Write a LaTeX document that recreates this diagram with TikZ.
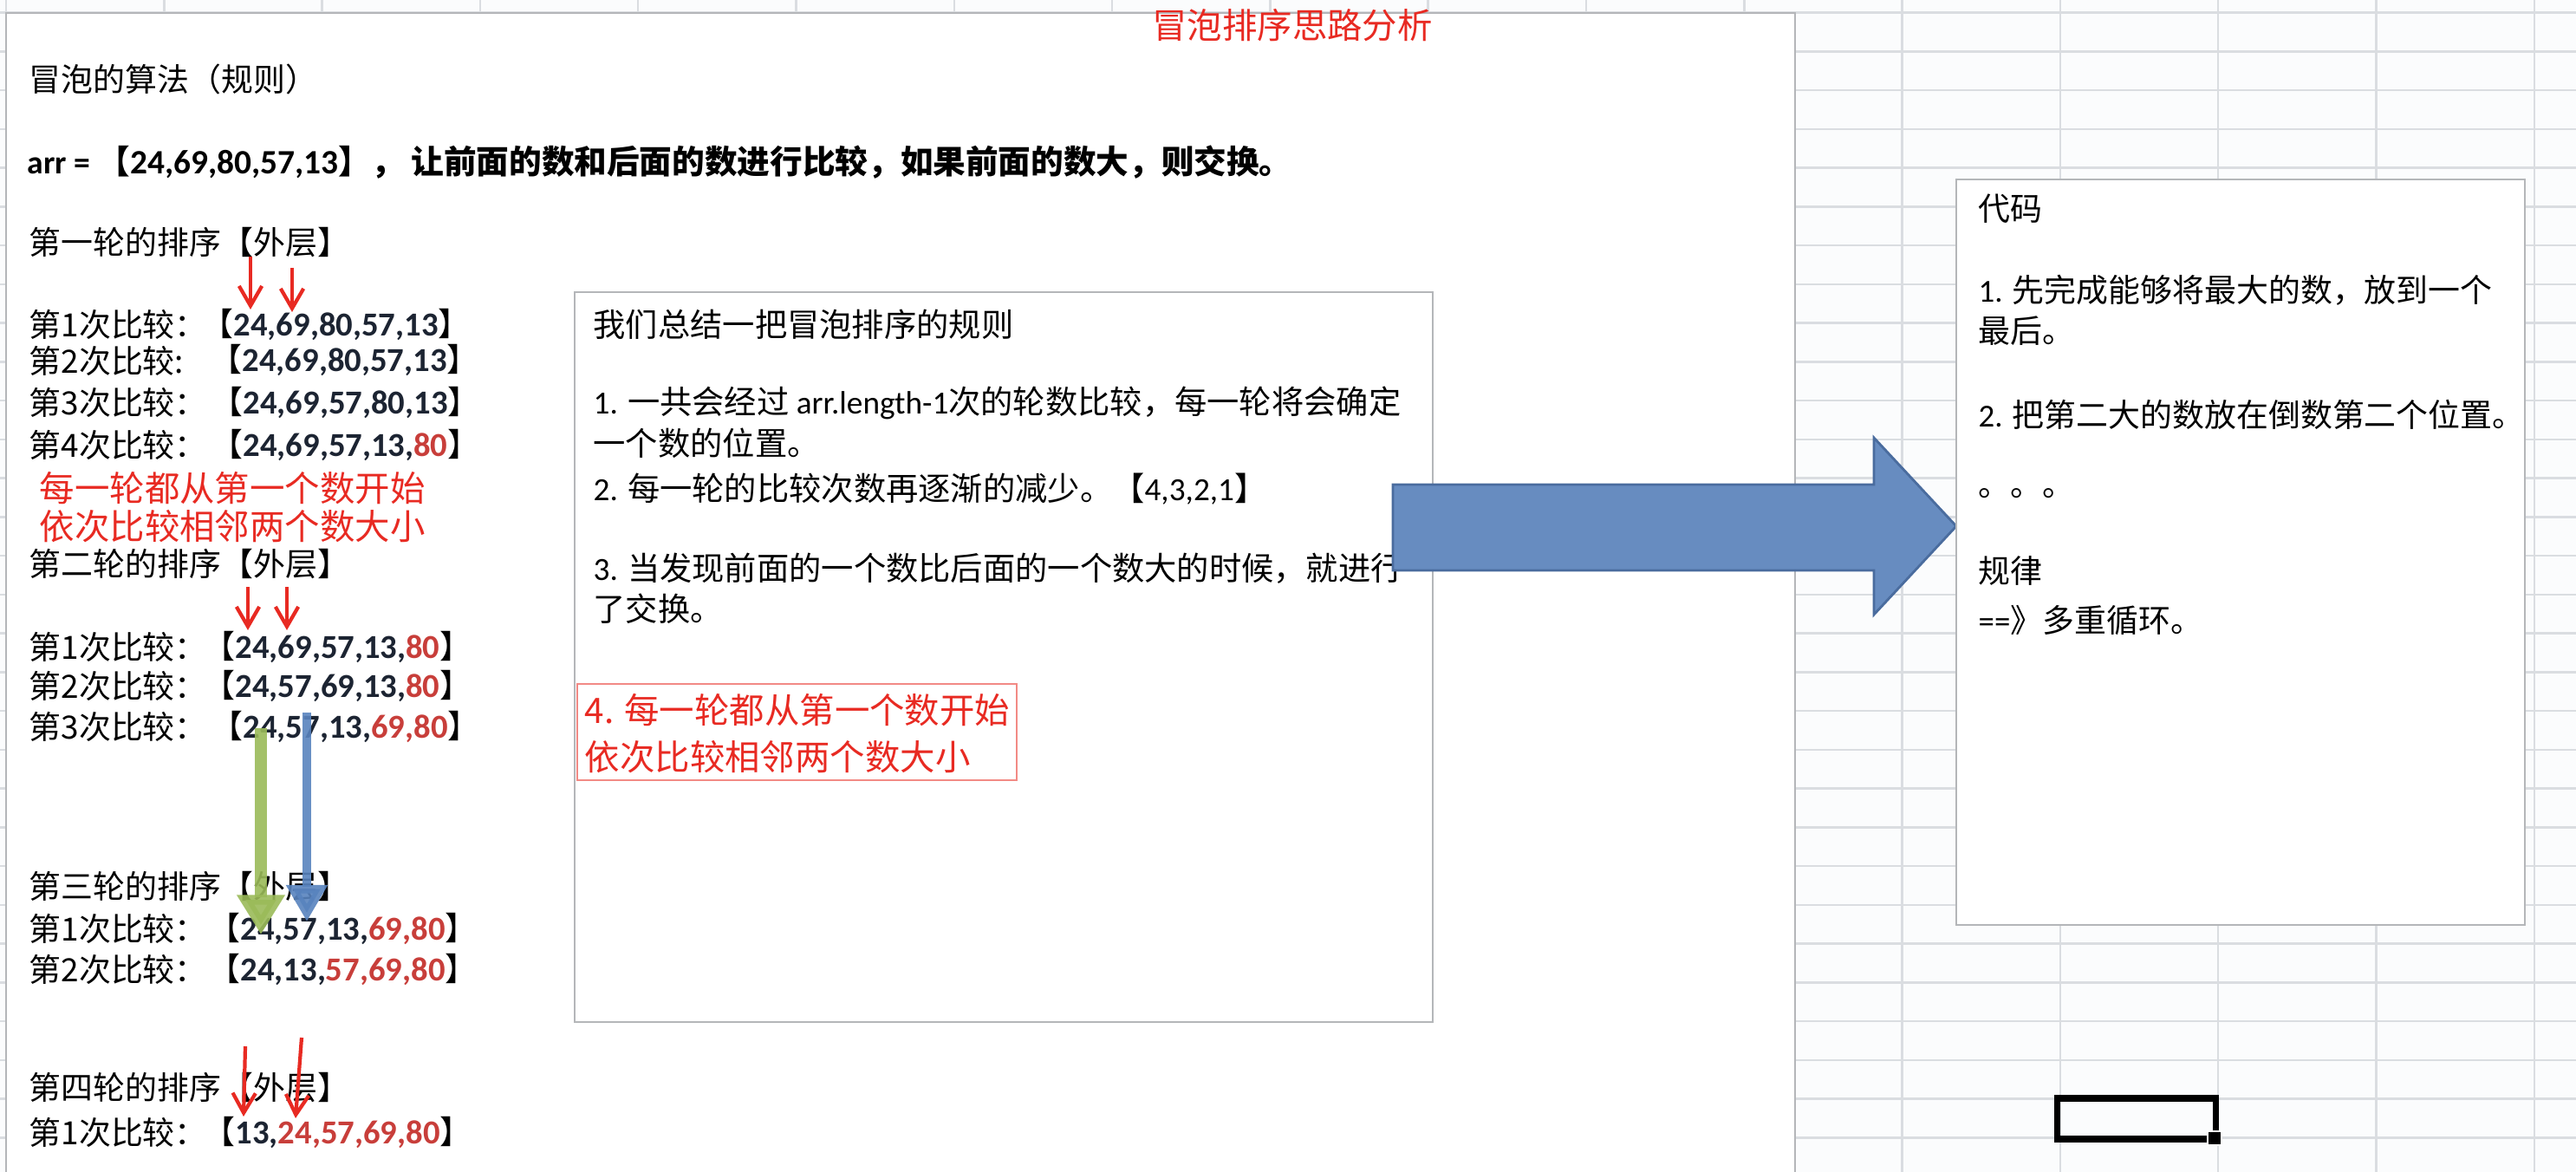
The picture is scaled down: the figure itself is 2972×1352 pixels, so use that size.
\documentclass[tikz,border=0pt]{standalone}
\usepackage{fontspec}
\setmainfont{Noto Sans CJK SC}
\newfontfamily\numfont{Carlito}
\usetikzlibrary{arrows.meta}
\definecolor{sheetbg}{RGB}{251,252,253}
\definecolor{gridgray}{RGB}{218,221,225}
\definecolor{boxgray}{RGB}{180,182,185}
\definecolor{notered}{RGB}{232,42,34}
\definecolor{numred}{RGB}{200,62,58}
\definecolor{numdark}{RGB}{28,36,50}
\definecolor{bigblue}{RGB}{103,140,192}
\definecolor{bigblueedge}{RGB}{74,108,158}
\definecolor{markgreen}{RGB}{155,187,89}
\definecolor{markblue}{RGB}{88,131,190}
\newcommand{\nb}[1]{{\numfont\bfseries\fontsize{11}{12}\selectfont\color{numdark}#1}}
\newcommand{\rn}[1]{\textcolor{numred}{#1}}
\newcommand{\lat}[1]{{\numfont #1}}

\begin{document}
\begin{tikzpicture}[
    x=0.01cm, y=-0.01cm,
    gridline/.style={draw=gridgray, line width=0.7pt},
    sheetbox/.style={draw=boxgray, line width=0.8pt, fill=white},
    txt/.style={anchor=west, inner sep=0pt, font=\fontsize{10.5}{12}\selectfont},
    sumtxt/.style={txt, font=\fontsize{10.6}{12}\selectfont},
    rednote/.style={txt, text=notered, font=\fontsize{11.5}{13}\selectfont},
    redarrow/.style={draw=notered, line width=1.2pt,
                     -{Straight Barb[length=6.5pt, width=7.5pt]}},
    greenmark/.style={draw=markgreen, opacity=0.9, line width=3.7pt,
                      -{Triangle[length=13pt, width=15pt]}},
    bluemark/.style={draw=markblue, opacity=0.9, line width=2.8pt,
                     -{Triangle[length=12pt, width=13pt]}},
]
\useasboundingbox (0,0) rectangle (2972,1352);
% sheet background and cell grid
\fill[sheetbg] (0,0) rectangle (2972,1352);
\foreach \i in {0,...,16}
    \draw[gridline] (7+182.3*\i, 0) -- (7+182.3*\i, 1352);
\foreach \j in {0,...,29}
    \draw[gridline] (0, 14.7+44.75*\j) -- (2972, 14.7+44.75*\j);

% main text panel
\fill[white] (7,15) rectangle (2071,1352);
\draw[boxgray, line width=0.8pt] (7,1352) -- (7,15) -- (2071,15) -- (2071,1352);
\node[rednote, anchor=center] (title) at (1491,29) {冒泡排序思路分析};

% left column
\node[txt] (algo) at (33,91) {冒泡的算法（规则）};
\node[txt, font=\fontsize{10.7}{12}\selectfont\bfseries] (arrline) at (31,187)
    {\lat{arr =} 【{\numfont\fontsize{11.2}{12}\selectfont 24,69,80,57,13}】， 让前面的数和后面的数进行比较，如果前面的数大，则交换。};
\foreach \n/\ord/\y in {1/一/280, 2/二/651, 3/三/1023, 4/四/1255}
    \node[txt] (round\n) at (33,\y) {第\ord 轮的排序【外层】};
\foreach \y/\lab/\bx/\arr in {
    374/{第1次比较：}/232/{24,69,80,57,13},
    416/{第2次比较:}/242/{24,69,80,57,13},
    464/{第3次比较：}/243/{24,69,57,80,13},
    513/{第4次比较：}/243/{24,69,57,13,\rn{80}},
    746/{第1次比较：}/234/{24,69,57,13,\rn{80}},
    791/{第2次比较：}/234/{24,57,69,13,\rn{80}},
    838/{第3次比较：}/243/{24,57,13,\rn{69,80}},
    1071/{第1次比较：}/240/{24,57,13,\rn{69,80}},
    1118/{第2次比较：}/240/{24,13,\rn{57,69,80}},
    1306/{第1次比较：}/234/{13,\rn{24,57,69,80}}} {
    \node[txt] (lab\y) at (33,\y) {\lab};
    \node[txt] (arr\y) at (\bx,\y) {【\nb{\arr}】};
}
\node[rednote] (hint1) at (45,563) {每一轮都从第一个数开始};
\node[rednote] (hint2) at (45,607) {依次比较相邻两个数大小};

% summary box
\draw[sheetbox] (663,337) rectangle (1653,1179);
\node[sumtxt] (sum0) at (684,374) {我们总结一把冒泡排序的规则};
\node[sumtxt] (sum1) at (684,465) {\lat{1.} 一共会经过 \lat{arr.length-1}次的轮数比较，每一轮将会确定};
\node[sumtxt] (sum1b) at (684,511) {一个数的位置。};
\node[sumtxt] (sum2) at (684,564) {\lat{2.} 每一轮的比较次数再逐渐的减少。【\lat{4,3,2,1}】};
\node[sumtxt] (sum3) at (684,656) {\lat{3.} 当发现前面的一个数比后面的一个数大的时候，就进行};
\node[sumtxt] (sum3b) at (684,702) {了交换。};
\draw[notered!55, line width=0.5pt] (666,789) rectangle (1173,900);
\node[rednote] (sum4) at (674,819) {4. 每一轮都从第一个数开始};
\node[rednote] (sum4b) at (674,873) {依次比较相邻两个数大小};

% block arrow to the code box
\filldraw[fill=bigblue, draw=bigblueedge, line width=0.8pt]
    (1607,559) -- (2162,559) -- (2162,505) -- (2257,607)
    -- (2162,709) -- (2162,658) -- (1607,658) -- cycle;

% code box
\draw[sheetbox] (2257,207) rectangle (2913,1067);
\node[txt] (code0) at (2282,241) {代码};
\node[txt] (code1) at (2282,335) {\lat{1.} 先完成能够将最大的数，放到一个};
\node[txt] (code1b) at (2282,382) {最后。};
\node[txt] (code2) at (2282,478) {\lat{2.} 把第二大的数放在倒数第二个位置。};
\node[txt] (code3) at (2282,569) {。。。};
\node[txt] (code4) at (2282,658) {规律};
\node[txt] (code5) at (2282,716) {\lat{==}》多重循环。};

% hand-drawn markers
\draw[redarrow] (289,296) -- (289,357);
\draw[redarrow] (337,309) -- (337,360);
\draw[redarrow] (286,677) -- (286,727);
\draw[redarrow] (331,677) -- (331,727);
\draw[redarrow] (283,1207) -- (281,1288);
\draw[redarrow] (348,1197) -- (341,1290);
\draw[greenmark] (301,840) -- (301,1078);
\draw[bluemark] (354,822) -- (354,1063);

% selected cell
\draw[black, line width=2pt] (2373,1267) rectangle (2556,1314);
\filldraw[fill=black, draw=white, line width=0.6pt] (2547,1305) rectangle (2563,1321);
\end{tikzpicture}
\end{document}
